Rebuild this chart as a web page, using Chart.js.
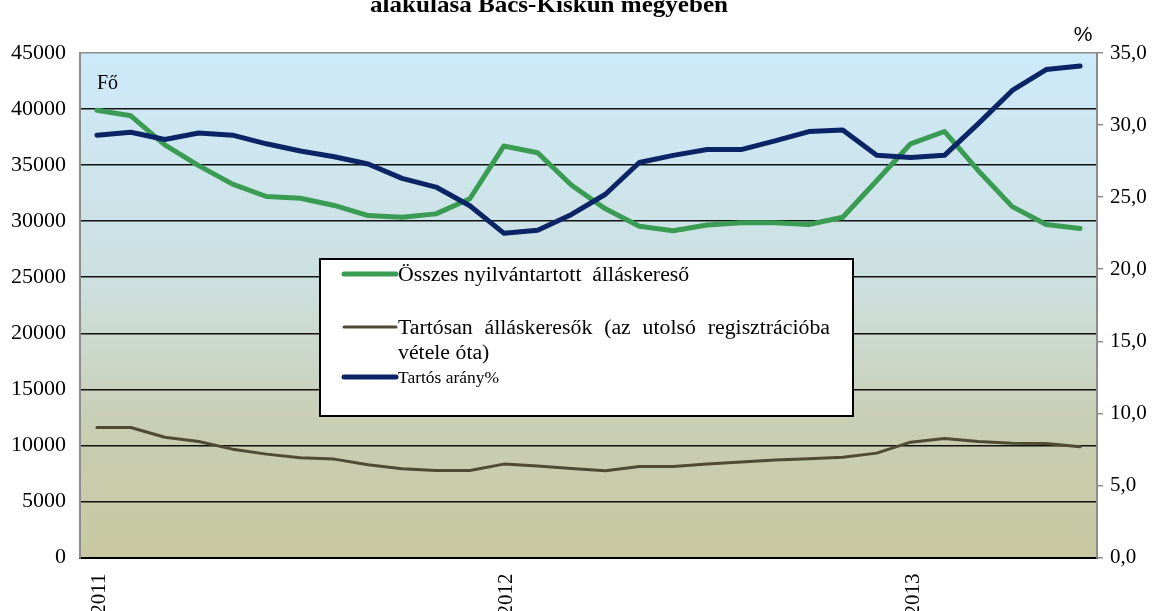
<!DOCTYPE html>
<html>
<head>
<meta charset="utf-8">
<script src="https://cdn.jsdelivr.net/npm/chart.js@4.4.1/dist/chart.umd.min.js"></script>
<style>
  html, body { margin: 0; padding: 0; background: #fff; overflow: hidden; }
  #wrap { position: relative; width: 1152px; height: 640px; }
</style>
</head>
<body>
<div id="wrap"><canvas id="myLineChart"></canvas></div>
<script>
// months, Jan 2011 - Jun 2013
var categories = [
  '2011-01','2011-02','2011-03','2011-04','2011-05','2011-06',
  '2011-07','2011-08','2011-09','2011-10','2011-11','2011-12',
  '2012-01','2012-02','2012-03','2012-04','2012-05','2012-06',
  '2012-07','2012-08','2012-09','2012-10','2012-11','2012-12',
  '2013-01','2013-02','2013-03','2013-04','2013-05','2013-06'
];

// Összes nyilvántartott álláskereső (fő)
var osszes = [39900, 39400, 36800, 34950, 33300, 32200, 32050, 31400, 30500, 30350, 30650, 32000,
              36700, 36100, 33200, 31100, 29550, 29150, 29650, 29850, 29850, 29700, 30350, 33600,
              36900, 38000, 34500, 31300, 29700, 29350];

// Tartósan álláskeresők (fő)
var tartosan = [11590, 11590, 10730, 10345, 9665, 9220, 8890, 8775, 8270, 7915, 7765, 7765,
                8330, 8155, 7945, 7740, 8120, 8120, 8330, 8510, 8690, 8800, 8950, 9310,
                10290, 10610, 10345, 10200, 10170, 9870];

// Tartós arány (%)
var arany = [29.3, 29.5, 29.0, 29.45, 29.3, 28.7, 28.2, 27.8, 27.3, 26.3, 25.7, 24.4,
             22.5, 22.7, 23.8, 25.2, 27.4, 27.9, 28.3, 28.3, 28.9, 29.55, 29.65, 27.9,
             27.75, 27.9, 30.1, 32.4, 33.85, 34.1];

var leftTicks = {min: 0, max: 45000, step: 5000};
var rightTicks = {min: 0, max: 35, step: 5};

var serif = "'Liberation Serif', 'Times New Roman', serif";
var stretch = 1.09; // the source picture is a bit wider than tall

var plotBackground = {
  id: 'plotBackground',
  beforeDraw: function(chart) {
    var a = chart.chartArea, c = chart.ctx;
    var g = c.createLinearGradient(0, a.top, 0, a.bottom);
    g.addColorStop(0, '#cdeafa');
    g.addColorStop(0.45, '#cde0e0');
    g.addColorStop(0.75, '#c9ceb2');
    g.addColorStop(1, '#c8c9a2');
    c.save();
    c.fillStyle = g;
    c.fillRect(a.left, a.top, a.right - a.left, a.bottom - a.top);
    c.restore();
  }
};

function wrapText(c, text, maxW) {
  var words = text.split(' '), lines = [], cur = '';
  words.forEach(function(w) {
    var t = cur === '' ? w : cur + ' ' + w;
    if (c.measureText(t).width * stretch > maxW && cur !== '') { lines.push(cur); cur = w; }
    else cur = t;
  });
  lines.push(cur);
  return lines;
}

// draw text stretched horizontally, optionally justified to a width
function drawText(c, text, x, y, justifyW) {
  c.save();
  c.translate(x, y);
  c.scale(stretch, 1);
  if (!justifyW) {
    c.fillText(text, 0, 0);
  } else {
    var words = text.split(/ +/);
    var total = 0;
    words.forEach(function(w) { total += c.measureText(w).width; });
    var gap = (justifyW / stretch - total) / (words.length - 1);
    var px = 0;
    words.forEach(function(w) { c.fillText(w, px, 0); px += c.measureText(w).width + gap; });
  }
  c.restore();
}

var extras = {
  id: 'extras',
  afterDraw: function(chart) {
    var c = chart.ctx;
    c.save();
    // title (upper line cut off)
    c.fillStyle = '#000';
    c.font = 'bold 23px ' + serif;
    c.textAlign = 'left';
    c.textBaseline = 'alphabetic';
    var tw = c.measureText('alakulása Bács-Kiskun megyében').width * stretch;
    drawText(c, 'alakulása Bács-Kiskun megyében', 549 - tw / 2, 12);
    // unit labels
    c.font = "21px 'Liberation Sans', Arial, sans-serif";
    c.textAlign = 'center';
    c.fillText('%', 1083, 41);
    c.font = '20px ' + serif;
    c.textAlign = 'left';
    c.fillText('Fő', 97, 89);

    // legend box
    c.fillStyle = '#fff';
    c.fillRect(320, 259, 533, 157);
    c.strokeStyle = '#000';
    c.lineWidth = 2;
    c.strokeRect(320, 259, 533, 157);

    var items = [
      {i: 0, y: 274, font: '20px ' + serif},
      {i: 1, y: 327, font: '20px ' + serif},
      {i: 2, y: 377, font: '16px ' + serif}
    ];
    c.textBaseline = 'middle';
    items.forEach(function(it) {
      var ds = chart.data.datasets[it.i];
      c.strokeStyle = ds.borderColor;
      c.lineWidth = ds.borderWidth;
      c.lineCap = 'round';
      c.beginPath();
      c.moveTo(344, it.y);
      c.lineTo(396, it.y);
      c.stroke();
      c.fillStyle = '#000';
      c.font = it.font;
      var lines = wrapText(c, ds.label, 440);
      lines.forEach(function(l, k) {
        var just = (lines.length > 1 && k < lines.length - 1) ? 432 : 0;
        drawText(c, l, 398, it.y + 2 + k * 25, just);
      });
    });
    c.restore();
  }
};

new Chart(document.getElementById('myLineChart'), {
  type: 'line',
  data: {
    labels: categories,
    datasets: [{
      label: 'Összes nyilvántartott  álláskereső',
      data: osszes,
      borderColor: '#3a9b52',
      borderWidth: 5,
      yAxisID: 'y',
      order: 1
    }, {
      label: 'Tartósan álláskeresők  (az utolsó regisztrációba vétele óta)',
      data: tartosan,
      borderColor: '#4f4a33',
      borderWidth: 3,
      yAxisID: 'y',
      order: 2
    }, {
      label: 'Tartós arány%',
      data: arany,
      borderColor: '#0a2466',
      borderWidth: 5,
      yAxisID: 'y1',
      order: 0
    }]
  },
  options: {
    responsive: true,
    maintainAspectRatio: false,
    animation: false,
    layout: {
      padding: {top: 53, left: 0, right: 0, bottom: 0}
    },
    elements: {
      point: {radius: 0},
      line: {tension: 0, borderJoinStyle: 'round', borderCapStyle: 'round'}
    },
    plugins: {
      legend: {display: false},
      title: {display: false},
      tooltip: {enabled: false}
    },
    scales: {
      x: {
        offset: true,
        afterFit: function(s) { s.height = 640 - 557.5; },
        grid: {display: false},
        border: {display: true, color: '#000', width: 2},
        ticks: {
          autoSkip: false,
          maxRotation: 90,
          minRotation: 90,
          padding: 8,
          labelOffset: 3,
          color: '#000',
          font: {family: serif, size: 21},
          callback: function(v, i) {
            var c = categories[i];
            return c.slice(5) === '01' ? c.slice(0, 4) : '';
          }
        }
      },
      y: {
        position: 'left',
        min: leftTicks.min,
        max: leftTicks.max,
        afterFit: function(s) { s.width = 80; },
        grid: {
          drawTicks: false,
          lineWidth: 1.5,
          color: function(ctx) { return ctx.tick && ctx.tick.value === leftTicks.max ? '#8c8c8c' : '#111'; }
        },
        border: {color: '#8c8c8c', width: 2},
        ticks: {
          stepSize: leftTicks.step,
          padding: 14,
          color: '#000',
          font: {family: serif, size: 22},
          callback: function(v) { return String(v); }
        }
      },
      y1: {
        position: 'right',
        min: rightTicks.min,
        max: rightTicks.max,
        afterFit: function(s) { s.width = 55; },
        grid: {drawOnChartArea: false, drawTicks: true, tickLength: 6, color: '#8c8c8c', lineWidth: 1.5},
        border: {color: '#8c8c8c', width: 2},
        ticks: {
          stepSize: rightTicks.step,
          padding: 7,
          color: '#000',
          font: {family: serif, size: 21},
          callback: function(v) { return v.toFixed(1).replace('.', ','); }
        }
      }
    }
  },
  plugins: [plotBackground, extras]
});
</script>
</body>
</html>
